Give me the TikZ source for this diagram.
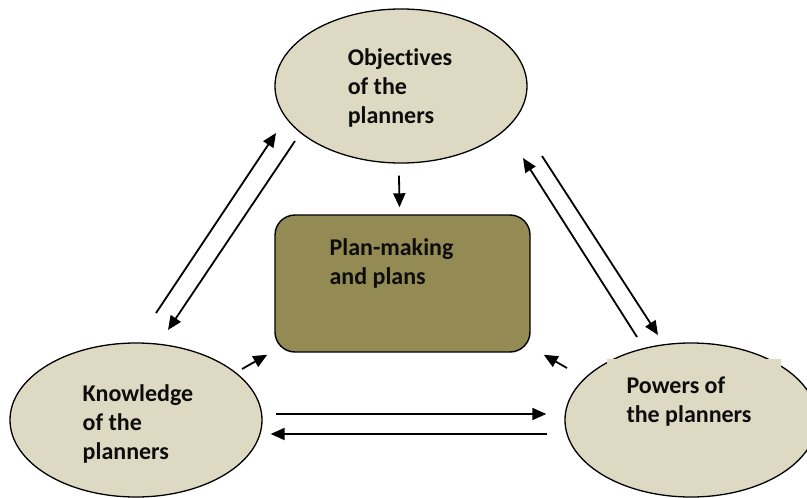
\documentclass[tikz,border=0pt]{standalone}
\usepackage{fontspec}
\setmainfont{Carlito}[Ligatures={NoCommon,NoRare}]
\usetikzlibrary{calc,positioning,shapes.geometric,arrows.meta}
\definecolor{ovalfill}{HTML}{DDD9C3}
\definecolor{boxfill}{HTML}{948A54}
\definecolor{ink}{HTML}{0D0D0D}

\begin{document}
\begin{tikzpicture}[x=1pt, y=-1pt,
  oval/.style={ellipse, draw=black, line width=1.3pt, fill=ovalfill, minimum width=252pt, minimum height=154pt, inner sep=0pt},
  planbox/.style={rectangle, rounded corners=20pt, draw=black, line width=1.4pt, fill=boxfill, minimum width=255pt, minimum height=137pt},
  txt/.style={align=left, text=ink, font=\bfseries\fontsize{24}{29}\selectfont},
  arr/.style={line width=1.8pt, -{Triangle[length=14pt, width=12pt]}}]
  \useasboundingbox (0,0) rectangle (807,498);

  % the three actors round the plan
  \node[oval] (obj) at (401,86) {};
  \node[txt] (objtext) at ($(obj)+(-1,2)$) {Objectives\\of the\\planners};
  \node[oval] (kno) at (136,420) {};
  \node[txt] (knotext) at ($(kno)+(2,4)$) {Knowledge\\of the\\planners};
  \node[oval] (pow) at (691,420) {};
  \fill[ovalfill] (607,359) rectangle (781,395);
  \node[txt] (powtext) at ($(pow)+(-2,-18)$) {Powers of\\the planners};

  % centre box
  \node[planbox] (plan) at (402.5,283.5) {};
  \node[txt] (plantext) at ($(plan)+(-11,-20)$) {Plan-making\\and plans};

  % into the plan
  \draw[arr] ($(obj.south)+(-2,12)$) -- ($(plan.north)+(-3,-7)$);
  \draw[arr] ($(kno)+(106,-51)$) -- ($(plan.south west)+(-7,2)$);
  \draw[arr] ($(pow)+(-124,-52)$) -- ($(plan.south east)+(13,2)$);

  % knowledge <-> objectives
  \draw[arr] ($(kno)+(20,-107)$) -- ($(obj)+(-125,47)$);
  \draw[arr] ($(obj)+(-106,55)$) -- ($(kno)+(32,-90)$);

  % powers <-> objectives
  \draw[arr] ($(pow)+(-54,-83)$) -- ($(obj)+(122,72)$);
  \draw[arr] ($(obj)+(141,70)$) -- ($(pow)+(-33,-85)$);

  % knowledge <-> powers
  \draw[arr] ($(kno.east)+(13,-6)$) -- ($(pow.west)+(-18,-6)$);
  \draw[arr] ($(pow.west)+(-17,14)$) -- ($(kno.east)+(8,14)$);
\end{tikzpicture}
\end{document}
